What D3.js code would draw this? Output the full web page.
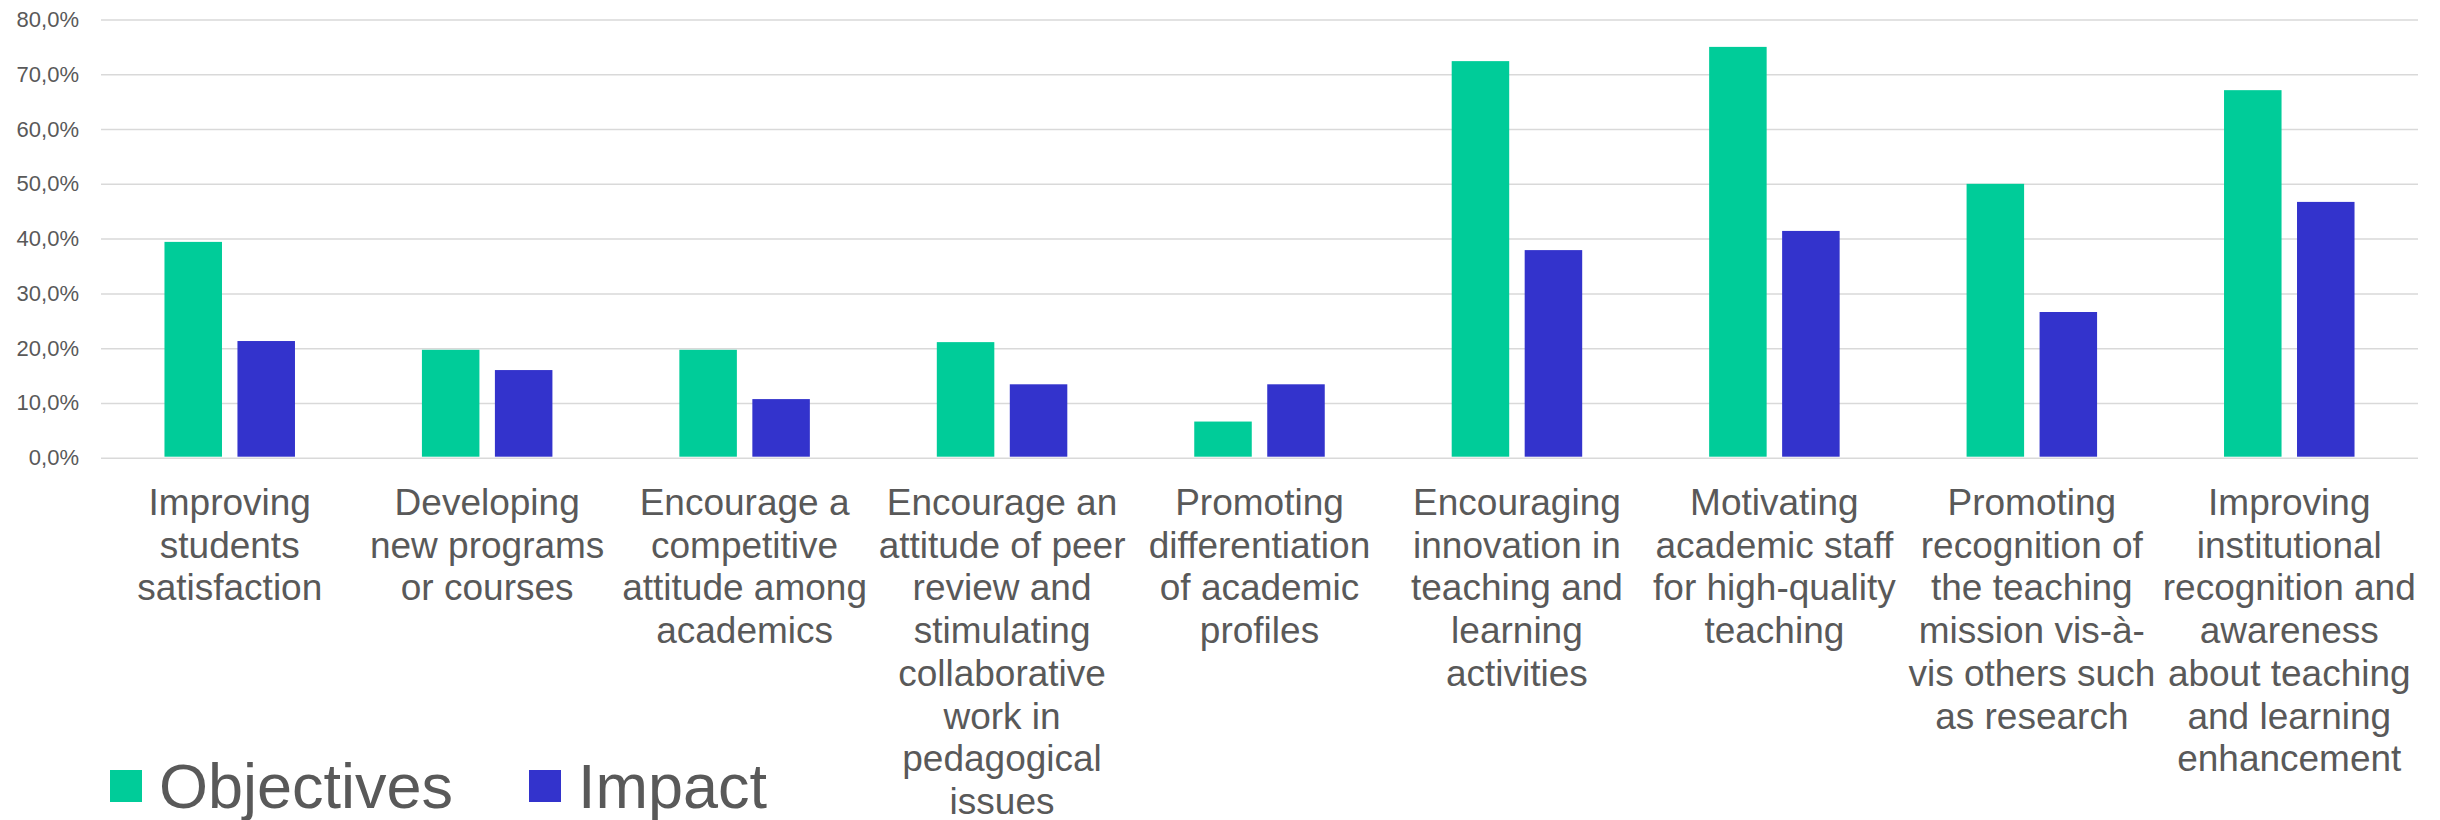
<!DOCTYPE html>
<html lang="en">
<head>
<meta charset="UTF-8">
<title>Objectives and Impact</title>
<script src="https://d3js.org/d3.v7.min.js"></script>
<style>
  body { margin: 0; background: #fff; }
  text { font-family: "Liberation Sans", Arial, sans-serif; fill: #595959; }
  .grid line { stroke: #d9d9d9; stroke-width: 1.5; }
</style>
</head>
<body>
<svg id="chart" width="2440" height="820"></svg>
<script>
// data
const categories = [
  ["Improving", "students", "satisfaction"],
  ["Developing", "new programs", "or courses"],
  ["Encourage a", "competitive", "attitude among", "academics"],
  ["Encourage an", "attitude of peer", "review and", "stimulating", "collaborative", "work in", "pedagogical", "issues"],
  ["Promoting", "differentiation", "of academic", "profiles"],
  ["Encouraging", "innovation in", "teaching and", "learning", "activities"],
  ["Motivating", "academic staff", "for high-quality", "teaching"],
  ["Promoting", "recognition of", "the teaching", "mission vis-à-", "vis others such", "as research"],
  ["Improving", "institutional", "recognition and", "awareness", "about teaching", "and learning", "enhancement"]
];
const seriesNames = ["Objectives", "Impact"];
const objectives = [0.394, 0.197, 0.197, 0.211, 0.066, 0.724, 0.750, 0.500, 0.671];
const impact     = [0.213, 0.160, 0.107, 0.134, 0.134, 0.379, 0.414, 0.266, 0.467];
const yTicks = [0, 0.1, 0.2, 0.3, 0.4, 0.5, 0.6, 0.7, 0.8];
const colors = ["#00CC99", "#3333CC"];

const svg = d3.select("#chart");
const plotLeft = 101, plotRight = 2418, plotTop = 19.5, plotBottom = 457.7;

const locale = d3.formatLocale({decimal: ",", thousands: ".", grouping: [3], currency: ["", "€"]});
const pct = locale.format(".1%");

const idx = categories.map((c, i) => i);
const x = d3.scaleBand().domain(idx).range([plotLeft, plotRight]);
const groupW = 130.5;
const xs = d3.scaleBand().domain(seriesNames).range([0, groupW]).paddingInner(0.212);
const y = d3.scaleLinear().domain([0, 0.8]).range([plotBottom, plotTop]);

// gridlines + y labels
const yAxis = svg.append("g")
  .attr("class", "grid")
  .attr("transform", `translate(${plotLeft},0)`)
  .call(d3.axisLeft(y).tickValues(yTicks).tickFormat(pct).tickSize(-(plotRight - plotLeft)).tickPadding(22));
yAxis.select(".domain").remove();
yAxis.selectAll("text")
  .style("font-size", "22px")
  .style("fill", "#595959")
  .style("font-family", "'Liberation Sans', Arial, sans-serif");

// bars
const data = idx.map(i => ({i: i, values: [objectives[i], impact[i]]}));
const groups = svg.append("g").selectAll("g")
  .data(data)
  .enter().append("g")
  .attr("transform", d => `translate(${x(d.i) + (x.bandwidth() - groupW) / 2},0)`);

groups.selectAll("rect")
  .data(d => d.values.map((v, k) => ({s: seriesNames[k], v: v, k: k})))
  .enter().append("rect")
  .attr("x", d => xs(d.s))
  .attr("y", d => y(d.v))
  .attr("width", xs.bandwidth())
  .attr("height", d => plotBottom - 1 - y(d.v))
  .attr("fill", d => colors[d.k]);

// category labels
const lineH = 42.7;
const labels = svg.append("g").selectAll("text")
  .data(data)
  .enter().append("text")
  .attr("x", d => x(d.i) + x.bandwidth() / 2)
  .attr("y", 515)
  .attr("text-anchor", "middle")
  .style("font-size", "37px");
labels.selectAll("tspan")
  .data(d => categories[d.i])
  .enter().append("tspan")
  .attr("x", function () { return this.parentNode.getAttribute("x"); })
  .attr("dy", (t, j) => j === 0 ? 0 : lineH)
  .text(t => t);

// legend
const legendX = [110, 529];
const legend = svg.append("g").selectAll("g")
  .data(seriesNames)
  .enter().append("g")
  .attr("transform", (d, k) => `translate(${legendX[k]},770)`);
legend.append("rect")
  .attr("width", 32).attr("height", 32)
  .attr("fill", (d, k) => colors[k]);
legend.append("text")
  .attr("x", 49).attr("y", 38)
  .style("font-size", "63px")
  .text(d => d);
</script>
</body>
</html>
